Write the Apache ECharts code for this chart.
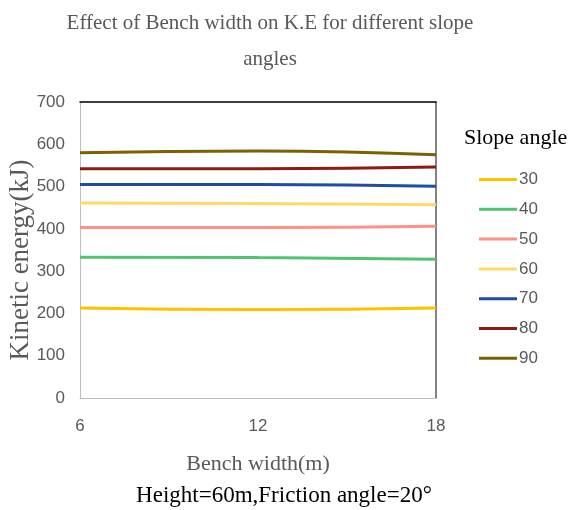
<!DOCTYPE html>
<html>
<head>
<meta charset="utf-8">
<script src="https://cdn.jsdelivr.net/npm/echarts@6/dist/echarts.min.js"></script>
<style>
  html, body { margin: 0; padding: 0; background: #fff; }
  #chart { width: 570px; height: 510px; }
</style>
</head>
<body>
<div id="chart"></div>
<script>
// Bench widths (m) along the x axis
const benchWidths = [6, 12, 18];

// Kinetic energy (kJ) for each slope angle
const slopeAngles = ['30', '40', '50', '60', '70', '80', '90'];
const ke30 = [213, 209, 213];
const ke40 = [333, 332, 328];
const ke50 = [403, 403, 406];
const ke60 = [461, 460, 457];
const ke70 = [505, 505, 501];
const ke80 = [542, 542, 546];
const ke90 = [580, 584, 575];

const yTicks = [0, 100, 200, 300, 400, 500, 600, 700];

const seriesValues = [ke30, ke40, ke50, ke60, ke70, ke80, ke90];
const seriesColors = ['#FFC000', '#4FC46C', '#FF9085', '#FFD966', '#1F4E9F', '#8E1B12', '#7F6000'];

const serif = '"Liberation Serif", "DejaVu Serif", serif';
const sans = '"Liberation Sans", Arial, sans-serif';

const chart = echarts.init(document.getElementById('chart'));

const series = slopeAngles.map((name, i) => ({
  name: name,
  type: 'line',
  smooth: true,
  symbol: 'none',
  data: benchWidths.map((w, j) => [w, seriesValues[i][j]]),
  lineStyle: { width: 3, color: seriesColors[i] },
  itemStyle: { color: seriesColors[i] }
}));

chart.setOption({
  animation: false,
  backgroundColor: '#fff',
  title: [
    {
      text: 'Effect of Bench width on K.E for different slope\nangles',
      left: 265,
      top: 0,
      textAlign: 'center',
      textStyle: { fontFamily: serif, fontSize: 21, fontWeight: 'normal', color: '#595959', lineHeight: 36, align: 'center' }
    },
    {
      text: 'Slope angle',
      left: 459,
      top: 122,
      textStyle: { fontFamily: serif, fontSize: 22, fontWeight: 'normal', color: '#000' }
    },
    {
      text: 'Height=60m,Friction angle=20°',
      left: 279,
      top: 479,
      textAlign: 'center',
      textStyle: { fontFamily: serif, fontSize: 23, fontWeight: 'normal', color: '#000' }
    }
  ],
  legend: {
    data: slopeAngles,
    orient: 'vertical',
    left: 474,
    top: 166,
    itemWidth: 38,
    itemHeight: 3,
    itemGap: 12.8,
    icon: 'rect',
    textStyle: { fontFamily: sans, fontSize: 17, color: '#595959', padding: [0, 0, 0, -3] }
  },
  grid: { left: 80, right: 134, top: 102, bottom: 112, outerBoundsMode: 'none', containLabel: false },
  xAxis: [
    {
      type: 'value',
      min: 6,
      max: 18,
      interval: 6,
      name: 'Bench width(m)',
      nameLocation: 'middle',
      nameGap: 55,
      nameMoveOverlap: false,
      nameTextStyle: { fontFamily: serif, fontSize: 22, color: '#595959' },
      axisLine: { show: true, onZero: false, lineStyle: { color: '#BFBFBF', width: 1 } },
      axisTick: { show: false },
      splitLine: { show: false },
      axisLabel: { fontFamily: sans, fontSize: 17, color: '#595959', margin: 20 }
    },
    {
      type: 'value',
      position: 'top',
      min: 6,
      max: 18,
      interval: 6,
      axisLine: { show: true, onZero: false, lineStyle: { color: '#000', width: 1.5 } },
      axisTick: { show: false },
      axisLabel: { show: false },
      splitLine: { show: false }
    }
  ],
  yAxis: [
    {
      type: 'value',
      min: 0,
      max: 700,
      interval: 100,
      name: 'Kinetic energy(kJ)',
      nameLocation: 'middle',
      nameGap: 46,
      nameMoveOverlap: false,
      nameTextStyle: { fontFamily: serif, fontSize: 27, color: '#595959', padding: [0, 20, 0, 0] },
      axisLine: { show: true, onZero: false, lineStyle: { color: '#BFBFBF', width: 1 } },
      axisTick: { show: false },
      splitLine: { show: false },
      axisLabel: {
        fontFamily: sans, fontSize: 17, color: '#595959', margin: 15,
        formatter: v => (yTicks.includes(v) ? String(v) : '')
      }
    },
    {
      type: 'value',
      position: 'right',
      min: 0,
      max: 700,
      interval: 100,
      axisLine: { show: true, onZero: false, lineStyle: { color: '#595959', width: 1.5 } },
      axisTick: { show: false },
      axisLabel: { show: false },
      splitLine: { show: false }
    }
  ],
  series: series
});
</script>
</body>
</html>
